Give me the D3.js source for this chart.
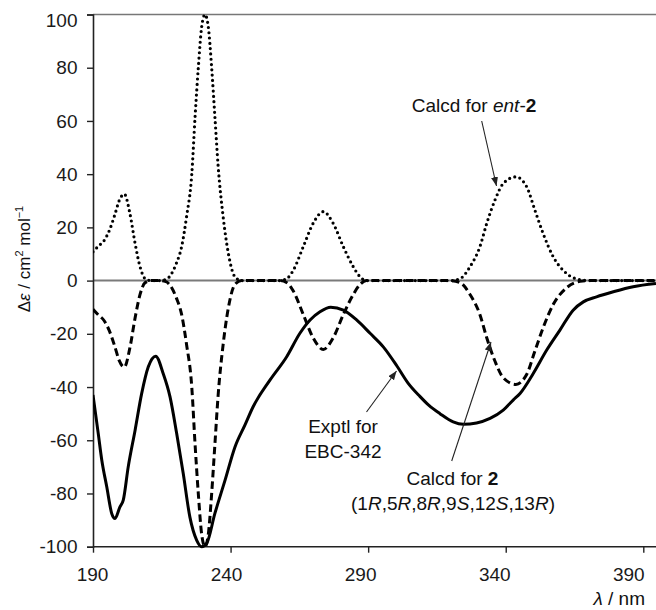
<!DOCTYPE html>
<html><head><meta charset="utf-8">
<script src="https://cdn.jsdelivr.net/npm/d3@7"></script>
<style>
html,body{margin:0;padding:0;background:#fff;}
svg{display:block;font-family:"Liberation Sans",Arial,Helvetica,sans-serif;}
</style></head>
<body><svg id="c" width="656" height="610"></svg>
<script>
// ---- data ----
const xTickLabels = [190, 240, 290, 340, 390];
const yTickLabels = [-100, -80, -60, -40, -20, 0, 20, 40, 60, 80, 100];

const calcWavelengths = [190,192,194,196,198,199.5,201.4,203.4,205.3,207.1,208.9,211,214,216.5,218.6,220.3,222.2,224,225.9,227.1,228.3,229.5,230.7,231.9,233.1,234.3,235.5,237.3,239.2,241.6,244,258,260.5,262.8,266.4,270,273.7,277.3,281,284.6,287,289.4,320,323.5,327,330.6,333.1,336.1,339.1,343.7,347.6,350.6,353.6,357.3,362.1,367,370,395];
const calcdEnt2 = [10.8,13,15,19,25,30,32.5,25.3,14,5.2,0.8,0,0,0.4,2.7,6.5,12.7,24,40,61.6,80.4,95.4,100,95.4,80.4,61.6,42.8,24,10.2,1.4,0,0,0.8,3.9,12.7,21.5,25.9,21.5,12.7,5.2,1.5,0,0,0.8,5.2,12.7,21.5,30.3,36.5,39,35.3,26.5,17.7,8.9,2.7,0.3,0,0];
const calcd2 = [-10.8,-13,-15,-19,-25,-30,-32.5,-25.3,-14,-5.2,-0.8,0,0,-0.4,-2.7,-6.5,-12.7,-24,-40,-61.6,-80.4,-95.4,-100,-95.4,-80.4,-61.6,-42.8,-24,-10.2,-1.4,0,0,-0.8,-3.9,-12.7,-21.5,-25.9,-21.5,-12.7,-5.2,-1.5,0,0,-0.8,-5.2,-12.7,-21.5,-30.3,-36.5,-39,-35.3,-26.5,-17.7,-8.9,-2.7,-0.3,0,0];

const exptlWavelengths = [190,191.9,193.2,195,196.8,198,199.8,201,202.8,205.3,207.7,210.1,212.8,215.5,218,220.4,222.8,225.2,227.7,229.5,231.3,234.3,238,241.6,245.2,248.2,254.3,260.4,265.2,268.9,272.5,276.4,281,285.8,290.7,295.5,300.4,304.5,308.8,312,316.1,320.9,324.6,329.4,334.3,339.1,342.7,345.2,350,354.9,359.7,364.5,368.2,373,379.1,386.3,394.6];
const exptlEBC342 = [-43,-57.4,-67.5,-77.5,-87.5,-89.4,-85,-82.5,-70,-56.2,-42.4,-32.4,-28.4,-34.9,-43.7,-57.4,-72.5,-88.8,-97.6,-100,-98.8,-87.5,-75,-62.5,-54.3,-47.4,-37.4,-28.6,-19.8,-14.8,-11.7,-10,-11.1,-14.8,-19.8,-24.9,-32,-38.5,-43.5,-46.8,-50,-53.1,-54,-53.5,-51.8,-48.7,-44.9,-42.4,-34.9,-26.1,-18.6,-11.1,-8,-6.1,-4.2,-2.3,-1.1];

// ---- layout ----
const svg = d3.select("#c");
const x = d3.scaleLinear().domain([190, 390]).range([93, 643.3]);
const y = d3.scaleLinear().domain([-100, 100]).range([546.7, 14.5]);
const labelX = d3.scaleLinear().domain([190, 390]).range([92, 628.3]);
const W = 656;

const defs = svg.append("defs");
defs.append("clipPath").attr("id","plotclip").append("rect")
  .attr("x", 93).attr("y", 8).attr("width", W - 93).attr("height", 545);
defs.append("marker").attr("id","arr").attr("markerUnits","userSpaceOnUse")
  .attr("markerWidth",10).attr("markerHeight",8).attr("refX",9).attr("refY",3.5)
  .attr("orient","auto")
  .append("path").attr("d","M0,0 L9,3.5 L0,7 Z").attr("fill","#222");

// top border and zero line
svg.append("line").attr("x1", x(190)).attr("x2", W).attr("y1", y(100)).attr("y2", y(100))
  .attr("stroke","#777").attr("stroke-width",1.6);
svg.append("line").attr("x1", x(190)).attr("x2", W).attr("y1", y(0)).attr("y2", y(0))
  .attr("stroke","#7a7a7a").attr("stroke-width",2);

// axes
const fmt = d => String(d);
const yAxis = d3.axisLeft(y).tickValues(yTickLabels).tickSize(6).tickPadding(9.5).tickFormat(fmt);
const gy = svg.append("g").attr("transform", `translate(${x(190)},0)`).call(yAxis);
gy.select(".domain").attr("stroke","#222").attr("stroke-width",1.6);
gy.selectAll(".tick line").attr("stroke","#222").attr("stroke-width",1.4);
gy.selectAll(".tick text").attr("font-size",19).attr("fill","#1a1a1a")
  .attr("font-family",'"Liberation Sans",Arial,sans-serif')
  .attr("dy","0.32em")
  .attr("y", d => d === 100 ? 6 : 0);

const xAxis = d3.axisBottom(x).tickValues(xTickLabels).tickSize(6).tickPadding(15.3).tickFormat(fmt);
const gx = svg.append("g").attr("transform", `translate(0,${y(-100)})`).call(xAxis);
gx.select(".domain").attr("d", `M${x(190)},0H${W}`).attr("stroke","#222").attr("stroke-width",1.6);
gx.selectAll(".tick line").attr("stroke","#222").attr("stroke-width",1.4);
gx.selectAll(".tick text").attr("font-size",19).attr("fill","#1a1a1a")
  .attr("font-family",'"Liberation Sans",Arial,sans-serif')
  .attr("x", d => labelX(d) - x(d));

// curves
const line = (xs, ys) => d3.line().curve(d3.curveMonotoneX)
  .x((d,i) => x(xs[i])).y((d,i) => y(ys[i]))(ys);
const curves = svg.append("g").attr("clip-path","url(#plotclip)");
curves.append("path").attr("d", line(calcWavelengths, calcdEnt2))
  .attr("fill","none").attr("stroke","#000").attr("stroke-width",3.2)
  .attr("stroke-linecap","round").attr("stroke-dasharray","0 5.3");
curves.append("path").attr("d", line(calcWavelengths, calcd2))
  .attr("fill","none").attr("stroke","#000").attr("stroke-width",3)
  .attr("stroke-dasharray","7.5 4");
curves.append("path").attr("d", line(exptlWavelengths, exptlEBC342))
  .attr("fill","none").attr("stroke","#000").attr("stroke-width",3)
  .attr("stroke-linejoin","round");

// annotation arrows
const arrows = [
  {x1: 481.7, y1: 121, x2: 496.5, y2: 186},
  {x1: 366.5, y1: 412, x2: 396.5, y2: 371},
  {x1: 451.7, y1: 461, x2: 491, y2: 342}
];
svg.append("g").selectAll("line").data(arrows).join("line")
  .attr("x1", d => d.x1).attr("y1", d => d.y1).attr("x2", d => d.x2).attr("y2", d => d.y2)
  .attr("stroke","#222").attr("stroke-width",1.1).attr("marker-end","url(#arr)");

// annotation texts
const txt = (xx, yy, parts, size) => {
  const t = svg.append("text").attr("x", xx).attr("y", yy).attr("text-anchor","middle")
    .attr("font-size", size || 19).attr("fill","#111");
  parts.forEach(p => {
    const s = t.append("tspan").text(p.t);
    if (p.i) s.attr("font-style","italic");
    if (p.b) s.attr("font-weight","bold");
  });
  return t;
};
txt(474, 112, [{t:"Calcd for "},{t:"ent",i:1},{t:"-"},{t:"2",b:1}]);
txt(343, 433, [{t:"Exptl for"}]);
txt(343, 457.5, [{t:"EBC-342"}]);
txt(452.5, 485, [{t:"Calcd for "},{t:"2",b:1}]);
txt(453, 509.5, [{t:"(1"},{t:"R",i:1},{t:",5"},{t:"R",i:1},{t:",8"},{t:"R",i:1},{t:",9"},{t:"S",i:1},{t:",12"},{t:"S",i:1},{t:",13"},{t:"R",i:1},{t:")"}]);

// axis titles
const xt = svg.append("text").attr("x", 645).attr("y", 605).attr("text-anchor","end")
  .attr("font-size",19).attr("fill","#111");
xt.append("tspan").attr("font-style","italic").text("λ");
xt.append("tspan").text(" / nm");

const yt = svg.append("text").attr("transform","translate(29.5,259) rotate(-90)")
  .attr("text-anchor","middle").attr("font-size",17).attr("fill","#111");
yt.append("tspan").text("Δ");
yt.append("tspan").attr("font-style","italic").text("ε");
yt.append("tspan").text(" / cm");
yt.append("tspan").attr("font-size",11).attr("dy",-7).text("2");
yt.append("tspan").attr("dy",7).text(" mol");
yt.append("tspan").attr("font-size",11).attr("dy",-7).text("−1");
</script></body></html>
